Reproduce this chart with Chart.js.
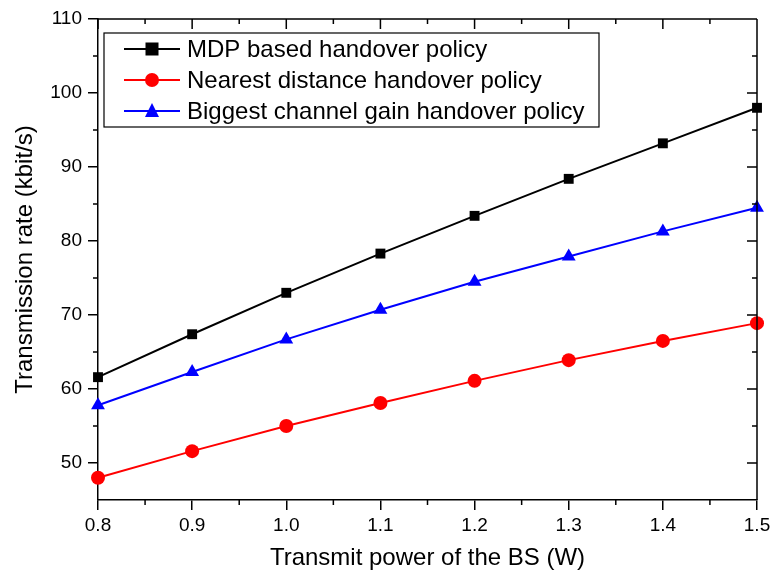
<!DOCTYPE html>
<html>
<head>
<meta charset="utf-8">
<script src="https://cdn.jsdelivr.net/npm/chart.js@4.4.1/dist/chart.umd.min.js"></script>
<style>
  html, body { margin: 0; padding: 0; background: #fff; }
  #wrap { width: 772px; height: 578px; position: relative; }
</style>
</head>
<body>
<div id="wrap"><canvas id="chart"></canvas></div>
<script>
// x values (transmit power, W)
var powers = [0.8, 0.9, 1.0, 1.1, 1.2, 1.3, 1.4, 1.5];
// transmission rate (kbit/s) per policy
var mdpRate = [61.6, 67.4, 73.0, 78.3, 83.4, 88.4, 93.2, 98.0];
var nearestRate = [48.0, 51.6, 55.0, 58.1, 61.1, 63.9, 66.5, 68.9];
var channelRate = [57.8, 62.3, 66.7, 70.7, 74.5, 77.9, 81.3, 84.5];
var seriesNames = ['MDP based handover policy', 'Nearest distance handover policy', 'Biggest channel gain handover policy'];
var xTicks = [0.8, 0.9, 1.0, 1.1, 1.2, 1.3, 1.4, 1.5];
var yTicks = [50, 60, 70, 80, 90, 100, 110];
var xMinorTicks = [0.85, 0.95, 1.05, 1.15, 1.25, 1.35, 1.45];
var yMinorTicks = [55, 65, 75, 85, 95, 105];

var FONT = 'Arial, "Liberation Sans", sans-serif';

function pts(ys) {
  return powers.map(function (x, i) { return { x: x, y: ys[i] }; });
}

// frame: top/right border, inward mirrored ticks, minor ticks
var framePlugin = {
  id: 'frame',
  afterDraw: function (chart) {
    var ctx = chart.ctx, a = chart.chartArea;
    var xs = chart.scales.x, ys = chart.scales.y;
    ctx.save();
    ctx.strokeStyle = '#000';
    ctx.lineWidth = 1.5;
    ctx.beginPath();
    ctx.moveTo(a.left, a.top); ctx.lineTo(a.right, a.top);
    ctx.moveTo(a.right, a.top); ctx.lineTo(a.right, a.bottom);
    xTicks.forEach(function (v) {
      var p = xs.getPixelForValue(v);
      ctx.moveTo(p, a.top); ctx.lineTo(p, a.top + 10);
    });
    xMinorTicks.forEach(function (v) {
      var p = xs.getPixelForValue(v);
      ctx.moveTo(p, a.top); ctx.lineTo(p, a.top + 5);
      ctx.moveTo(p, a.bottom); ctx.lineTo(p, a.bottom + 5);
    });
    yTicks.forEach(function (v) {
      var p = ys.getPixelForValue(v);
      ctx.moveTo(a.right, p); ctx.lineTo(a.right - 10, p);
    });
    yMinorTicks.forEach(function (v) {
      var p = ys.getPixelForValue(v);
      ctx.moveTo(a.right, p); ctx.lineTo(a.right - 5, p);
      ctx.moveTo(a.left, p); ctx.lineTo(a.left - 5, p);
    });
    ctx.stroke();
    ctx.restore();
  }
};

// legend box drawn inside the plot, top-left
var boxLegend = {
  id: 'boxLegend',
  afterDraw: function (chart) {
    var ctx = chart.ctx;
    var x0 = 104, y0 = 33, w = 495, h = 94, row = 31;
    ctx.save();
    ctx.fillStyle = '#fff';
    ctx.fillRect(x0, y0, w, h);
    ctx.strokeStyle = '#000';
    ctx.lineWidth = 1.2;
    ctx.strokeRect(x0, y0, w, h);
    ctx.font = '24px ' + FONT;
    ctx.textBaseline = 'middle';
    chart.data.datasets.forEach(function (ds, i) {
      var cy = y0 + 16 + i * row;
      ctx.strokeStyle = ds.borderColor;
      ctx.lineWidth = 2;
      ctx.beginPath();
      ctx.moveTo(124, cy); ctx.lineTo(180, cy);
      ctx.stroke();
      ctx.fillStyle = ds.pointBackgroundColor;
      ctx.beginPath();
      if (ds.pointStyle === 'rect') {
        ctx.fillRect(152 - 6.5, cy - 6.5, 13, 13);
      } else if (ds.pointStyle === 'circle') {
        ctx.arc(152, cy, 7, 0, Math.PI * 2); ctx.fill();
      } else {
        ctx.moveTo(152, cy - 8); ctx.lineTo(159, cy + 6); ctx.lineTo(145, cy + 6);
        ctx.closePath(); ctx.fill();
      }
      ctx.fillStyle = '#000';
      ctx.fillText(ds.label, 187, cy + 1);
    });
    ctx.restore();
  }
};

new Chart(document.getElementById('chart'), {
  type: 'line',
  data: {
    datasets: [
      { label: seriesNames[0], data: pts(mdpRate), borderColor: '#000', backgroundColor: '#000',
        pointBackgroundColor: '#000', pointBorderColor: '#000', pointStyle: 'rect', pointRadius: 7,
        borderWidth: 2, pointBorderWidth: 0 },
      { label: seriesNames[1], data: pts(nearestRate), borderColor: '#ff0000', backgroundColor: '#ff0000',
        pointBackgroundColor: '#ff0000', pointBorderColor: '#ff0000', pointStyle: 'circle', pointRadius: 7,
        borderWidth: 2, pointBorderWidth: 0 },
      { label: seriesNames[2], data: pts(channelRate), borderColor: '#0000ff', backgroundColor: '#0000ff',
        pointBackgroundColor: '#0000ff', pointBorderColor: '#0000ff', pointStyle: 'triangle', pointRadius: 8,
        borderWidth: 2, pointBorderWidth: 0 }
    ]
  },
  options: {
    responsive: true,
    maintainAspectRatio: false,
    animation: false,
    clip: false,
    layout: { padding: { top: 19, right: 15, left: 0, bottom: 0 } },
    plugins: { legend: { display: false }, tooltip: { enabled: false } },
    scales: {
      x: {
        type: 'linear', min: 0.8, max: 1.5,
        afterBuildTicks: function (s) { s.ticks = xTicks.map(function (v) { return { value: v }; }); },
        afterFit: function (s) { s.height = 78; s.paddingLeft = 0; s.paddingRight = 0; },
        ticks: { color: '#000', font: { size: 19, family: FONT }, padding: 4,
          maxRotation: 0, autoSkip: false,
          callback: function (v) { return Number(v).toFixed(1); } },
        grid: { display: true, drawOnChartArea: false, drawTicks: true, tickLength: 10, color: '#000', lineWidth: 1.5 },
        border: { display: true, color: '#000', width: 1.5 },
        title: { display: true, text: 'Transmit power of the BS (W)', color: '#000',
          font: { size: 24, family: FONT }, padding: { top: 0, bottom: 5 } }
      },
      y: {
        type: 'linear', min: 45, max: 110,
        afterBuildTicks: function (s) { s.ticks = yTicks.map(function (v) { return { value: v }; }); },
        afterFit: function (s) { s.width = 98; s.paddingTop = 0; s.paddingBottom = 0; },
        ticks: { color: '#000', font: { size: 19, family: FONT }, padding: 6 },
        grid: { display: true, drawOnChartArea: false, drawTicks: true, tickLength: 10, color: '#000', lineWidth: 1.5 },
        border: { display: true, color: '#000', width: 1.5 },
        title: { display: true, text: 'Transmission rate (kbit/s)', color: '#000',
          font: { size: 24, family: FONT }, padding: { top: 11, bottom: 0 } }
      }
    }
  },
  plugins: [framePlugin, boxLegend]
});
</script>
</body>
</html>
